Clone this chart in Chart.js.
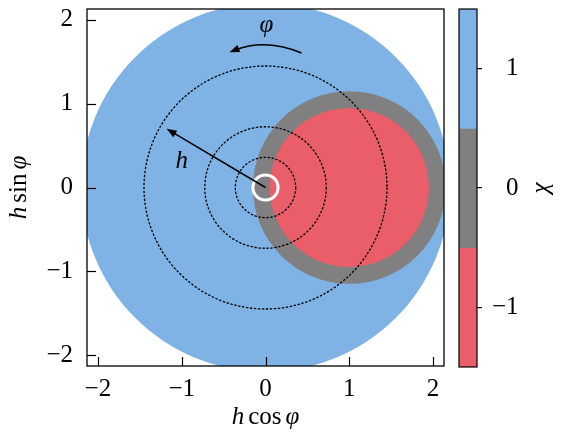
<!DOCTYPE html>
<html><head><meta charset="utf-8">
<script src="https://cdn.jsdelivr.net/npm/chart.js@4.4.0/dist/chart.umd.min.js"></script>
<style>
html,body{margin:0;padding:0;background:#fff;}
#wrap{position:relative;width:563px;height:432px;overflow:hidden;background:#fff;}
#main{position:absolute;left:0;top:0;}
#cbar{position:absolute;left:452px;top:0;}
</style></head><body>
<div id="wrap"><canvas id="main" width="452" height="432"></canvas><canvas id="cbar" width="111" height="432"></canvas></div>
<script>
// ---- data ----
const xTicks = [-2, -1, 0, 1, 2];
const yTicks = [-2, -1, 0, 1, 2];
const cbTicks = [-1, 0, 1];
const chiLevels = [1, 0, -1];
const chiColors = ['#7fb2e5', '#808080', '#e95e68'];
const cbBottoms = [0.5, -0.5, -1.5];
const cbTops = [1.5, 0.5, -0.5];
const diskCenterX = [0, 1, 1];
const diskCenterY = [0, 0, 0];
const diskRadius = [2.2, 1.15, 0.95];
const diskChi = [1, 0, -1];
const guideRadii = [0.36, 0.725, 1.45];
const markerRadius = 0.15;
const hArrowFrom = [0, 0];
const hArrowTo = [-1.18, 0.70];
const phiArrowFrom = [0.43, 1.605];
const phiArrowCtrl = [0.0, 1.78];
const phiArrowTo = [-0.43, 1.615];
const hLabelPos = [-1.0, 0.23];
const phiLabelPos = [0.01, 1.85];

const FONT = "'Liberation Serif', 'Times New Roman', serif";
const FS = 25;
const fmt = v => (v < 0 ? '\u2212' + Math.abs(v) : String(v));
const chiColor = c => chiColors[chiLevels.indexOf(c)];

function arrowHead(ctx, tx, ty, ang, len, half) {
  ctx.beginPath();
  ctx.moveTo(tx, ty);
  ctx.lineTo(tx - len * Math.cos(ang) + half * Math.sin(ang), ty - len * Math.sin(ang) - half * Math.cos(ang));
  ctx.lineTo(tx - len * Math.cos(ang) - half * Math.sin(ang), ty - len * Math.sin(ang) + half * Math.cos(ang));
  ctx.closePath();
  ctx.fill();
}
function mixedText(ctx, parts, cx, by, gap) {
  const ws = parts.map(p => { ctx.font = (p.i ? 'italic ' : '') + FS + 'px ' + FONT; return ctx.measureText(p.t).width; });
  const total = ws.reduce((a, b) => a + b, 0) + gap * (parts.length - 1);
  let xx = cx - total / 2;
  ctx.textAlign = 'left'; ctx.textBaseline = 'alphabetic'; ctx.fillStyle = '#000';
  parts.forEach((p, k) => { ctx.font = (p.i ? 'italic ' : '') + FS + 'px ' + FONT; ctx.fillText(p.t, xx, by); xx += ws[k] + gap; });
}

const figurePlugin = {
  id: 'figure',
  beforeDatasetsDraw(chart) {
    const { ctx, chartArea: a, scales: { x, y } } = chart;
    const px = v => x.getPixelForValue(v), py = v => y.getPixelForValue(v);
    const rx = r => px(r) - px(0), ry = r => py(0) - py(r);
    ctx.save();
    ctx.beginPath(); ctx.rect(a.left, a.top, a.right - a.left, a.bottom - a.top); ctx.clip();
    for (let i = 0; i < diskRadius.length; i++) {
      ctx.beginPath();
      ctx.ellipse(px(diskCenterX[i]), py(diskCenterY[i]), rx(diskRadius[i]), ry(diskRadius[i]), 0, 0, 2 * Math.PI);
      ctx.fillStyle = chiColor(diskChi[i]); ctx.fill();
    }
    ctx.setLineDash([2.4, 1.6]); ctx.lineWidth = 1.3; ctx.strokeStyle = '#000';
    guideRadii.forEach(r => { ctx.beginPath(); ctx.ellipse(px(0), py(0), rx(r), ry(r), 0, 0, 2 * Math.PI); ctx.stroke(); });
    ctx.setLineDash([]);
    ctx.beginPath(); ctx.ellipse(px(0), py(0), rx(markerRadius), ry(markerRadius), 0, 0, 2 * Math.PI);
    ctx.lineWidth = 3; ctx.strokeStyle = '#fff'; ctx.stroke();
    // h arrow
    ctx.strokeStyle = '#000'; ctx.fillStyle = '#000'; ctx.lineWidth = 1.5;
    const x0 = px(hArrowFrom[0]), y0 = py(hArrowFrom[1]), x1 = px(hArrowTo[0]), y1 = py(hArrowTo[1]);
    const ang = Math.atan2(y1 - y0, x1 - x0);
    ctx.beginPath(); ctx.moveTo(x0, y0); ctx.lineTo(x1 - 8 * Math.cos(ang), y1 - 8 * Math.sin(ang)); ctx.stroke();
    arrowHead(ctx, x1, y1, ang, 10, 3.8);
    // phi arrow
    const sx = px(phiArrowFrom[0]), sy = py(phiArrowFrom[1]);
    const cx = px(phiArrowCtrl[0]), cy = py(phiArrowCtrl[1]);
    const ex = px(phiArrowTo[0]), ey = py(phiArrowTo[1]);
    const a2 = Math.atan2(ey - cy, ex - cx);
    ctx.beginPath(); ctx.moveTo(sx, sy); ctx.quadraticCurveTo(cx, cy, ex - 6 * Math.cos(a2), ey - 6 * Math.sin(a2)); ctx.stroke();
    arrowHead(ctx, ex, ey, a2, 10, 3.8);
    // labels
    ctx.font = 'italic ' + FS + 'px ' + FONT; ctx.textAlign = 'center'; ctx.textBaseline = 'alphabetic';
    ctx.fillText('h', px(hLabelPos[0]), py(hLabelPos[1]));
    ctx.fillText('\u03c6', px(phiLabelPos[0]), py(phiLabelPos[1]));
    ctx.restore();
  },
  afterDraw(chart) {
    const { ctx, chartArea: a, scales: { x, y } } = chart;
    ctx.save();
    ctx.strokeStyle = '#000'; ctx.lineWidth = 1.2;
    xTicks.forEach(v => { const p = Math.round(x.getPixelForValue(v)) + 0.5; ctx.beginPath(); ctx.moveTo(p, a.bottom); ctx.lineTo(p, a.bottom - 9); ctx.stroke(); });
    yTicks.forEach(v => { const p = Math.round(y.getPixelForValue(v)) + 0.5; ctx.beginPath(); ctx.moveTo(a.left, p); ctx.lineTo(a.left + 9, p); ctx.stroke(); });
    ctx.lineWidth = 1.3;
    ctx.strokeRect(a.left, a.top, a.right - a.left, a.bottom - a.top);
    // axis titles
    mixedText(ctx, [{ t: 'h', i: true }, { t: 'cos', i: false }, { t: '\u03c6', i: true }], (a.left + a.right) / 2, 424, 4);
    ctx.translate(25.5, (a.top + a.bottom) / 2);
    ctx.rotate(-Math.PI / 2);
    mixedText(ctx, [{ t: 'h', i: true }, { t: 'sin', i: false }, { t: '\u03c6', i: true }], 0, 0, 4);
    ctx.restore();
  }
};

new Chart(document.getElementById('main'), {
  type: 'scatter',
  data: { datasets: [{ data: diskCenterX.map((v, i) => ({ x: v, y: diskCenterY[i] })), pointRadius: 0, showLine: false }] },
  options: {
    responsive: false, animation: false, events: [],
    layout: { padding: { top: 9, right: 8, left: 0, bottom: 0 } },
    plugins: { legend: { display: false }, tooltip: { enabled: false } },
    scales: {
      x: {
        type: 'linear', min: -2.13, max: 2.13,
        afterBuildTicks: s => { s.ticks = xTicks.map(v => ({ value: v })); },
        afterFit: s => { s.height = 66; s.paddingLeft = 0; s.paddingRight = 0; s.paddingTop = 0; s.paddingBottom = 0; },
        grid: { display: false, drawTicks: false }, border: { display: false },
        ticks: { font: { family: FONT, size: FS }, color: '#000', padding: 8, maxRotation: 0, callback: fmt }
      },
      y: {
        type: 'linear', min: -2.13, max: 2.13,
        afterBuildTicks: s => { s.ticks = yTicks.map(v => ({ value: v })); },
        afterFit: s => { s.width = 87; s.paddingLeft = 0; s.paddingRight = 0; s.paddingTop = 0; s.paddingBottom = 0; },
        grid: { display: false, drawTicks: false }, border: { display: false },
        ticks: { font: { family: FONT, size: FS }, color: '#000', padding: 14, callback: fmt }
      }
    }
  },
  plugins: [figurePlugin]
});

const cbarPlugin = {
  id: 'cbarFrame',
  afterDraw(chart) {
    const { ctx, chartArea: a } = chart;
    ctx.save();
    ctx.strokeStyle = '#000'; ctx.lineWidth = 1.2;
    ctx.strokeRect(a.left, a.top, a.right - a.left, a.bottom - a.top);
    ctx.font = 'italic ' + FS + 'px ' + FONT; ctx.fillStyle = '#000';
    ctx.translate(96, (a.top + a.bottom) / 2);
    ctx.rotate(-Math.PI / 2);
    ctx.textAlign = 'center'; ctx.textBaseline = 'alphabetic';
    ctx.fillText('\u03c7', 0, 0);
    ctx.restore();
  }
};

new Chart(document.getElementById('cbar'), {
  type: 'bar',
  data: {
    labels: ['\u03c7'],
    datasets: chiLevels.map((c, i) => ({
      label: String(c), data: [[cbBottoms[i], cbTops[i]]], backgroundColor: chiColors[i],
      borderWidth: 0, barPercentage: 1, categoryPercentage: 1, grouped: false
    }))
  },
  options: {
    responsive: false, animation: false, events: [],
    layout: { padding: { top: 9, right: 44.5, left: 7, bottom: 65 } },
    plugins: { legend: { display: false }, tooltip: { enabled: false } },
    scales: {
      x: { display: false },
      y: {
        position: 'right', min: -1.5, max: 1.5,
        afterBuildTicks: s => { s.ticks = cbTicks.map(v => ({ value: v })); },
        afterFit: s => { s.width = 41.5; s.paddingTop = 0; s.paddingBottom = 0; },
        grid: { drawOnChartArea: false, drawTicks: true, tickLength: 5, color: '#000', lineWidth: 1.2 },
        border: { display: false },
        ticks: { font: { family: FONT, size: FS }, color: '#000', padding: 11, crossAlign: 'far', callback: fmt }
      }
    }
  },
  plugins: [cbarPlugin]
});
</script>
</body></html>
